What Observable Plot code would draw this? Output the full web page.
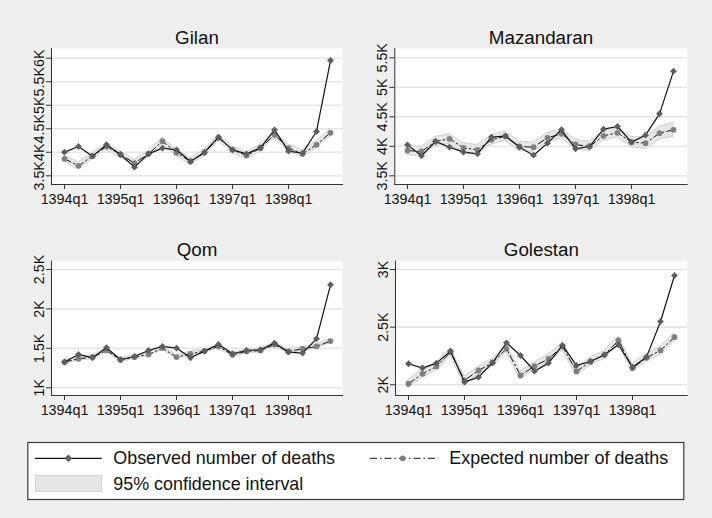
<!DOCTYPE html>
<html><head><meta charset="utf-8">
<script src="https://cdn.jsdelivr.net/npm/d3@7"></script>
<script src="https://cdn.jsdelivr.net/npm/@observablehq/plot@0.6"></script>
<style>
body{margin:0;background:#efefef;font-family:"Liberation Sans",Arial,sans-serif;}
#root{position:relative;width:712px;height:518px;background:#efefef;overflow:hidden}
.panel{position:absolute}
</style></head><body><div id="root"></div>
<script>
const quarters = ["1394q1","1394q2","1394q3","1394q4","1395q1","1395q2","1395q3","1395q4","1396q1","1396q2","1396q3","1396q4","1397q1","1397q2","1397q3","1397q4","1398q1","1398q2","1398q3","1398q4"];
const yearTicks = ["1394q1","1395q1","1396q1","1397q1","1398q1"];

// Gilan
const gilanObserved = [4003,4123,3918,4159,3953,3684,3967,4088,4052,3805,4003,4322,4052,3967,4095,4477,4024,3982,4442,5950];
const gilanExpected = [3861,3712,3918,4123,3953,3769,3967,4236,3989,3805,3989,4307,4052,3932,4088,4371,4088,3967,4159,4414];
const gilanLower = [3791,3642,3848,4053,3883,3699,3897,4166,3919,3735,3919,4237,3982,3862,4018,4301,4013,3892,4084,4334];
const gilanUpper = [3931,3782,3988,4193,4023,3839,4037,4306,4059,3875,4059,4377,4122,4002,4158,4441,4163,4042,4234,4494];
const gilanTicks = [3500,4000,4500,5000,5500,6000];

// Mazandaran
const mazObserved = [4025,3839,4082,3986,3901,3873,4155,4172,3986,3850,4054,4280,3958,3997,4291,4336,4071,4189,4551,5274];
const mazExpected = [3929,3912,4082,4127,3975,3941,4110,4172,3997,3986,4144,4212,4031,3997,4178,4229,4071,4054,4223,4280];
const mazLower = [3849,3832,4002,4047,3895,3861,4030,4092,3917,3906,4064,4132,3951,3917,4098,4149,3986,3954,4113,4160];
const mazUpper = [4009,3992,4162,4207,4055,4021,4190,4252,4077,4066,4224,4292,4111,4077,4258,4309,4156,4154,4333,4400];
const mazTicks = [3500,4000,4500,5000,5500];

// Qom
const qomObserved = [1326,1423,1380,1507,1355,1397,1473,1524,1503,1380,1465,1549,1431,1473,1482,1566,1452,1440,1621,2306];
const qomExpected = [1326,1368,1389,1473,1355,1389,1423,1503,1389,1431,1465,1524,1418,1461,1473,1549,1461,1494,1524,1592];
const qomLower = [1301,1343,1364,1448,1330,1364,1398,1478,1364,1406,1440,1499,1393,1436,1448,1524,1436,1469,1499,1567];
const qomUpper = [1351,1393,1414,1498,1380,1414,1448,1528,1414,1456,1490,1549,1443,1486,1498,1574,1486,1519,1549,1617];
const qomTicks = [1000,1500,2000,2500];

// Golestan
const golObserved = [2182,2145,2188,2292,2023,2066,2191,2364,2254,2118,2188,2341,2168,2202,2260,2347,2153,2240,2549,2948];
const golExpected = [2009,2095,2159,2283,2038,2124,2191,2312,2081,2162,2225,2332,2116,2202,2260,2384,2145,2234,2298,2413];
const golLower = [1974,2060,2124,2248,2003,2089,2156,2277,2046,2127,2190,2297,2081,2167,2225,2349,2110,2199,2263,2378];
const golUpper = [2044,2130,2194,2318,2073,2159,2226,2347,2116,2197,2260,2367,2151,2237,2295,2419,2180,2269,2333,2448];
const golTicks = [2000,2500,3000];

const legendLabels = ["Observed number of deaths","Expected number of deaths","95% confidence interval"];

const fmtK = d => (d/1000) + "K";
const root = document.getElementById("root");

function panel({title, obs, exp, lo, hi, ticks, yDomain, left, top, width, height, mLeft, mRight, mTop, mBottom}) {
  const data = quarters.map((q,i) => ({q, obs: obs[i], exp: exp[i], lo: lo[i], hi: hi[i]}));
  const fs = 14.3;
  const svg = Plot.plot({
    width, height,
    marginLeft: mLeft, marginRight: mRight, marginTop: mTop, marginBottom: mBottom,
    style: {background: "transparent", fontFamily: "'Liberation Sans', Arial, sans-serif", overflow: "visible"},
    x: {type: "point", domain: quarters, padding: 0.58},
    y: {domain: yDomain},
    marks: [
      Plot.frame({fill: "white", stroke: "none"}),
      Plot.gridY(ticks, {stroke: "#e6e6e6", strokeOpacity: 1, strokeWidth: 1.6}),
      Plot.areaY(data, {x: "q", y1: "lo", y2: "hi", fill: "#e6e6e6", stroke: "#d2d2d2", strokeWidth: 1}),
      Plot.lineY(data, {x: "q", y: "exp", stroke: "#111", strokeWidth: 1, strokeDasharray: "7,3,1.5,3"}),
      Plot.dot(data, {x: "q", y: "exp", r: 2.9, fill: "#7f7f7f", stroke: "none"}),
      Plot.lineY(data, {x: "q", y: "obs", stroke: "#111", strokeWidth: 1.2}),
      Plot.dot(data, {x: "q", y: "obs", symbol: "diamond2", r: 3.1, fill: "#5e5e5e", stroke: "none"}),
      Plot.frame({anchor: "left", stroke: "#333", strokeWidth: 1}),
      Plot.frame({anchor: "bottom", stroke: "#333", strokeWidth: 1}),
      Plot.axisY(ticks, {tickFormat: fmtK, tickSize: 5, tickPadding: 3, tickRotate: -90, fontSize: fs, stroke: "#333", fill: "#111", label: null}),
      Plot.axisX(yearTicks, {tickSize: 5, tickPadding: 4, fontSize: fs, stroke: "#333", fill: "#111", label: null}),
      Plot.text([title], {frameAnchor: "top", dy: -5, lineAnchor: "bottom", fontSize: 18.8, fill: "#111"})
    ]
  });
  svg.classList.add("panel");
  svg.style.left = left + "px";
  svg.style.top = top + "px";
  root.appendChild(svg);
}

panel({title: "Gilan", obs: gilanObserved, exp: gilanExpected, lo: gilanLower, hi: gilanUpper, ticks: gilanTicks, yDomain: [3315, 6206],
  left: 0, top: 0, width: 356, height: 215, mLeft: 51, mRight: 14, mTop: 48, mBottom: 31});
panel({title: "Mazandaran", obs: mazObserved, exp: mazExpected, lo: mazLower, hi: mazUpper, ticks: mazTicks, yDomain: [3353, 5658],
  left: 356, top: 0, width: 356, height: 215, mLeft: 38.3, mRight: 25.3, mTop: 48, mBottom: 31});
panel({title: "Qom", obs: qomObserved, exp: qomExpected, lo: qomLower, hi: qomUpper, ticks: qomTicks, yDomain: [902, 2605],
  left: 0, top: 215, width: 356, height: 215, mLeft: 51, mRight: 14, mTop: 45.7, mBottom: 35});
panel({title: "Golestan", obs: golObserved, exp: golExpected, lo: golLower, hi: golUpper, ticks: golTicks, yDomain: [1907, 3072],
  left: 356, top: 215, width: 356, height: 215, mLeft: 39, mRight: 25.3, mTop: 45.7, mBottom: 35});

// Legend
const ns = "http://www.w3.org/2000/svg";
const lg = document.createElementNS(ns, "svg");
lg.setAttribute("width", 712); lg.setAttribute("height", 518);
lg.style.position = "absolute"; lg.style.left = "0px"; lg.style.top = "0px"; lg.style.pointerEvents = "none";
function el(tag, attrs, text) {
  const e = document.createElementNS(ns, tag);
  for (const k in attrs) e.setAttribute(k, attrs[k]);
  if (text) e.textContent = text;
  lg.appendChild(e);
  return e;
}
el("rect", {x: 27.8, y: 442.5, width: 656, height: 57, fill: "white", stroke: "#3a3a3a", "stroke-width": 1.2});
el("line", {x1: 35, x2: 101.7, y1: 458.3, y2: 458.3, stroke: "#111", "stroke-width": 1.2});
el("path", {d: "M68.3,454.5L72.1,458.3L68.3,462.1L64.5,458.3Z", fill: "#5e5e5e"});
el("line", {x1: 370, x2: 438.3, y1: 458.3, y2: 458.3, stroke: "#111", "stroke-width": 1, "stroke-dasharray": "7,3,1.5,3"});
el("circle", {cx: 402.7, cy: 458.3, r: 2.9, fill: "#7f7f7f"});
el("rect", {x: 35.5, y: 475.5, width: 66, height: 16, fill: "#e6e6e6", stroke: "#d2d2d2", "stroke-width": 1});
const tstyle = {"font-family": "'Liberation Sans', Arial, sans-serif", "font-size": 17.9, fill: "#111"};
el("text", {...tstyle, x: 113.3, y: 464.3}, legendLabels[0]);
el("text", {...tstyle, x: 449.3, y: 464.3}, legendLabels[1]);
el("text", {...tstyle, x: 113.3, y: 490}, legendLabels[2]);
root.appendChild(lg);
</script>
</body></html>
